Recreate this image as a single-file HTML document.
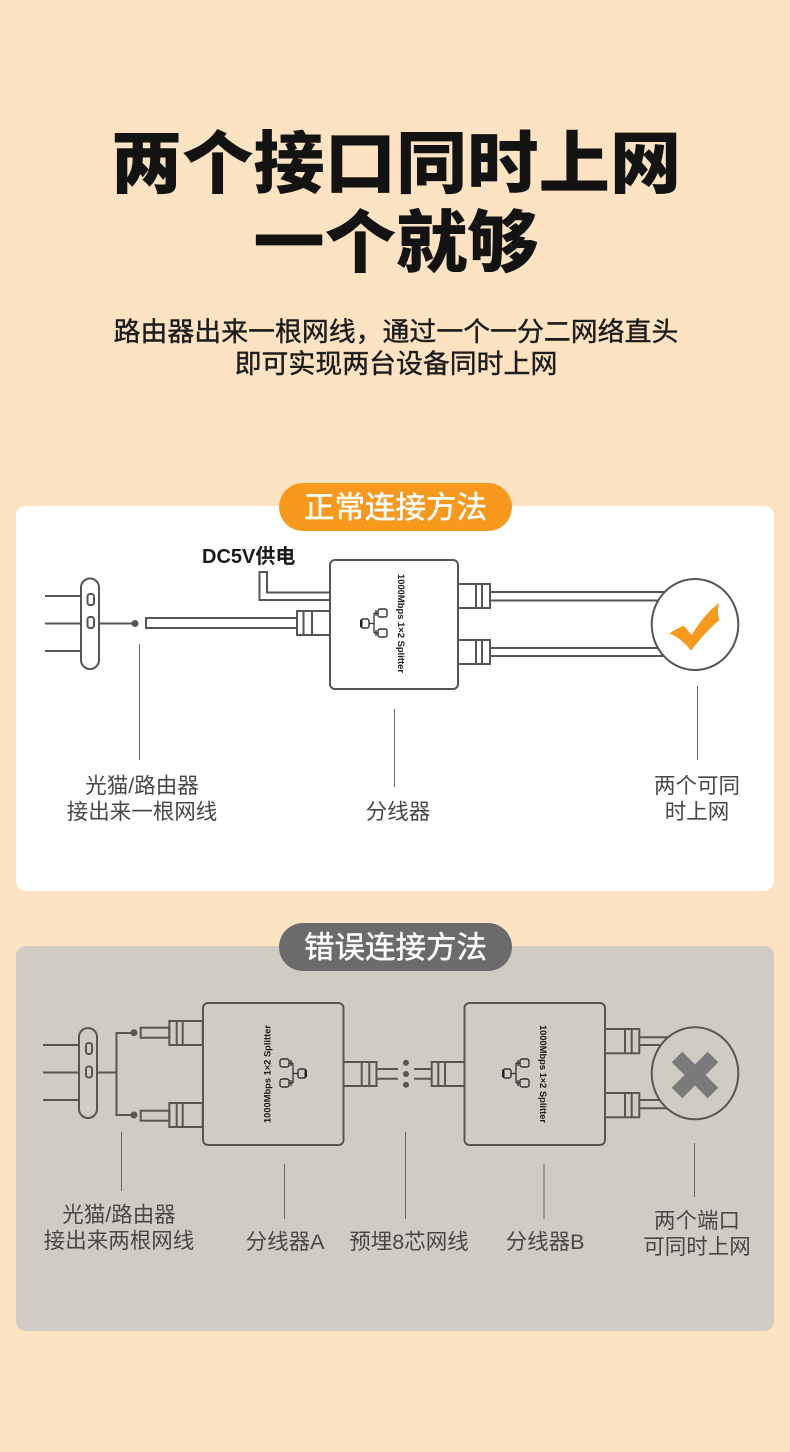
<!DOCTYPE html>
<html lang="zh">
<head>
<meta charset="utf-8">
<style>
html,body{margin:0;padding:0;background:#fde3c1;}
svg{display:block;}
text{font-family:"Liberation Sans","Noto Sans CJK SC",sans-serif;}
.t{font-size:71.3px;font-weight:900;fill:#131313;text-anchor:middle;}
.s{font-size:26.9px;font-weight:400;fill:#1c1c1c;stroke:#1c1c1c;stroke-width:.4px;text-anchor:middle;}
.p{font-size:30.5px;font-weight:400;fill:#fff;stroke:#fff;stroke-width:.45px;text-anchor:middle;}
.l{font-size:21.5px;fill:#474747;text-anchor:middle;}
.m{font-size:9.6px;font-weight:700;fill:#1a1a1a;text-anchor:middle;}
.g1 *{fill:none;stroke:#555;stroke-width:2;}
.g2 *{fill:none;stroke:#5a564f;stroke-width:2;}
.ld{stroke:#666;stroke-width:1;fill:none;}
</style>
</head>
<body>
<svg width="790" height="1452" viewBox="0 0 790 1452" xmlns="http://www.w3.org/2000/svg">
<defs>
<g id="net">
<rect x="0" y="11" width="8" height="9" rx="2" fill="none" stroke="#333" stroke-width="1.4"/>
<rect x="17" y="1" width="9" height="8" rx="2" fill="none" stroke="#333" stroke-width="1.4"/>
<rect x="17" y="21" width="9" height="8" rx="2" fill="none" stroke="#333" stroke-width="1.4"/>
<path d="M8 15.500H13M13 5V25M13 5H17M13 25H17M15 2V8M15 22V28" fill="none" stroke="#333" stroke-width="1.3"/>
<rect x="-1" y="12" width="2.500" height="7" fill="#222"/>
</g>
</defs>
<rect width="790" height="1452" fill="#fde3c1"/>

<text class="t" transform="translate(396,187.500) scale(1,.96)">两个接口同时上网</text>
<text class="t" transform="translate(396,266.500) scale(1,.96)">一个就够</text>
<text class="s" x="396" y="341">路由器出来一根网线，通过一个一分二网络直头</text>
<text class="s" x="396" y="373">即可实现两台设备同时上网</text>

<!-- Normal panel -->
<rect x="16" y="506" width="758" height="385" rx="10" fill="#fff"/>
<rect x="279" y="483" width="233" height="48" rx="24" fill="#f7991c"/>
<text class="p" x="395.500" y="518">正常连接方法</text>
<text x="202" y="563" font-size="20" font-weight="700" fill="#1a1a1a">DC5V供电</text>

<g class="g1">
<path d="M45 596H81M45 623.500H81M45 651H81"/>
<rect x="81" y="578.500" width="18" height="90.500" rx="9"/>
<rect x="87.500" y="594" width="6.500" height="11" rx="2.500"/>
<rect x="87.500" y="617" width="6.500" height="11" rx="2.500"/>
<path d="M99 623.500H133"/>
<rect x="146" y="618" width="151" height="10"/>
<rect x="297" y="611" width="33" height="24"/>
<path d="M303.500 611V635M312 611V635"/>
<path d="M330 592.500H267V572H259.500V600H330"/>
<rect x="330" y="560" width="128" height="129" rx="5"/>
<rect x="458" y="584" width="32" height="24"/>
<path d="M476 584V608M482 584V608"/>
<path d="M490 592H665M490 600.500H658"/>
<rect x="458" y="640" width="32" height="24"/>
<path d="M476 640V664M482 640V664"/>
<path d="M490 648H658M490 656H665"/>
</g>
<circle cx="135" cy="623.500" r="3.500" fill="#555"/>
<ellipse cx="695" cy="624.500" rx="43.300" ry="45.500" fill="#fff" stroke="#555" stroke-width="2"/>
<path d="M669.500 633.500C674 630 679 628 683.500 625.500L691.700 635C699 623 708 611 719.300 602.700C717.500 608 717.500 614 719.300 620C709 629 699 640 691 650.700C685 643 678 637 669.500 633.500Z" fill="#f7991c"/>
<text class="m" transform="translate(401.500,623.500) rotate(90)" y="3.500" textLength="99" lengthAdjust="spacingAndGlyphs">1000Mbps 1×2 Splitter</text>
<use href="#net" x="361" y="608"/>

<path class="ld" d="M139.500 644V760M394.500 709V787M697.500 686V760"/>
<text class="l" x="142" y="793">光猫/路由器</text>
<text class="l" x="142" y="819">接出来一根网线</text>
<text class="l" x="398" y="819">分线器</text>
<text class="l" x="697" y="793">两个可同</text>
<text class="l" x="697" y="819">时上网</text>

<!-- Wrong panel -->
<rect x="16" y="946" width="758" height="385" rx="10" fill="#d0ccc4"/>
<rect x="279" y="923" width="233" height="48" rx="24" fill="#6b6b6b"/>
<text class="p" x="395.500" y="958">错误连接方法</text>

<g class="g2">
<path d="M43 1045H79M43 1072.500H79M43 1100H79"/>
<rect x="79" y="1028" width="18" height="90" rx="9"/>
<rect x="86" y="1043" width="6" height="11" rx="2.500"/>
<rect x="86" y="1066.500" width="6" height="11" rx="2.500"/>
<path d="M97 1072.500H116.500M134 1033H116.500V1115H134"/>
<rect x="140.700" y="1027.700" width="28.600" height="10"/>
<rect x="169.300" y="1021" width="33.400" height="24"/>
<path d="M176.700 1021V1045M182.700 1021V1045"/>
<rect x="140.700" y="1110.700" width="28.600" height="10"/>
<rect x="169.300" y="1103" width="33.400" height="24"/>
<path d="M176.700 1103V1127M182.700 1103V1127"/>
<rect x="203" y="1003" width="140.500" height="142" rx="5"/>
<rect x="343.500" y="1062" width="33" height="24"/>
<path d="M361.700 1062V1086M369.300 1062V1086"/>
<path d="M376.500 1069H398M376.500 1078.700H398"/>
<path d="M414 1069H431.700M414 1078.700H431.700"/>
<rect x="431.700" y="1062" width="32.800" height="24"/>
<path d="M438.300 1062V1086M445 1062V1086"/>
<rect x="464.500" y="1003" width="140.500" height="142" rx="5"/>
<rect x="605" y="1029" width="34.300" height="24.300"/>
<path d="M625 1029V1053.300M631.700 1029V1053.300"/>
<path d="M639.300 1037.300H668M639.300 1045H660"/>
<rect x="605" y="1093" width="34.300" height="24.300"/>
<path d="M625 1093V1117.300M631.700 1093V1117.300"/>
<path d="M639.300 1100H660M639.300 1108.300H668"/>
</g>
<circle cx="134" cy="1032.700" r="3.500" fill="#5a564f"/>
<circle cx="134" cy="1115" r="3.500" fill="#5a564f"/>
<circle cx="406" cy="1062.700" r="3" fill="#5a564f"/>
<circle cx="406" cy="1074" r="3" fill="#5a564f"/>
<circle cx="406" cy="1084.700" r="3" fill="#5a564f"/>
<ellipse cx="695" cy="1073.300" rx="43.300" ry="46" fill="#d0ccc4" stroke="#5a564f" stroke-width="2"/>
<path d="M677 1057L713 1093M713 1057L677 1093" stroke="#7a7a7a" stroke-width="15" fill="none"/>
<text class="m" transform="translate(267,1074) rotate(-90)" y="3.500" textLength="98" lengthAdjust="spacingAndGlyphs">1000Mbps 1×2 Splitter</text>
<text class="m" transform="translate(543.500,1074) rotate(90)" y="3.500" textLength="98" lengthAdjust="spacingAndGlyphs">1000Mbps 1×2 Splitter</text>
<use href="#net" transform="translate(306,1058) scale(-1,1)"/>
<use href="#net" x="503" y="1058"/>

<path class="ld" d="M121.500 1132V1191M284.500 1164V1219M405.500 1132V1219M544 1164V1219M694.500 1143V1197"/>
<text class="l" x="119" y="1222">光猫/路由器</text>
<text class="l" x="119" y="1248">接出来两根网线</text>
<text class="l" x="285" y="1249">分线器A</text>
<text class="l" x="409" y="1249">预埋8芯网线</text>
<text class="l" x="545" y="1249">分线器B</text>
<text class="l" x="697" y="1228">两个端口</text>
<text class="l" x="697" y="1254">可同时上网</text>
</svg>
</body>
</html>
